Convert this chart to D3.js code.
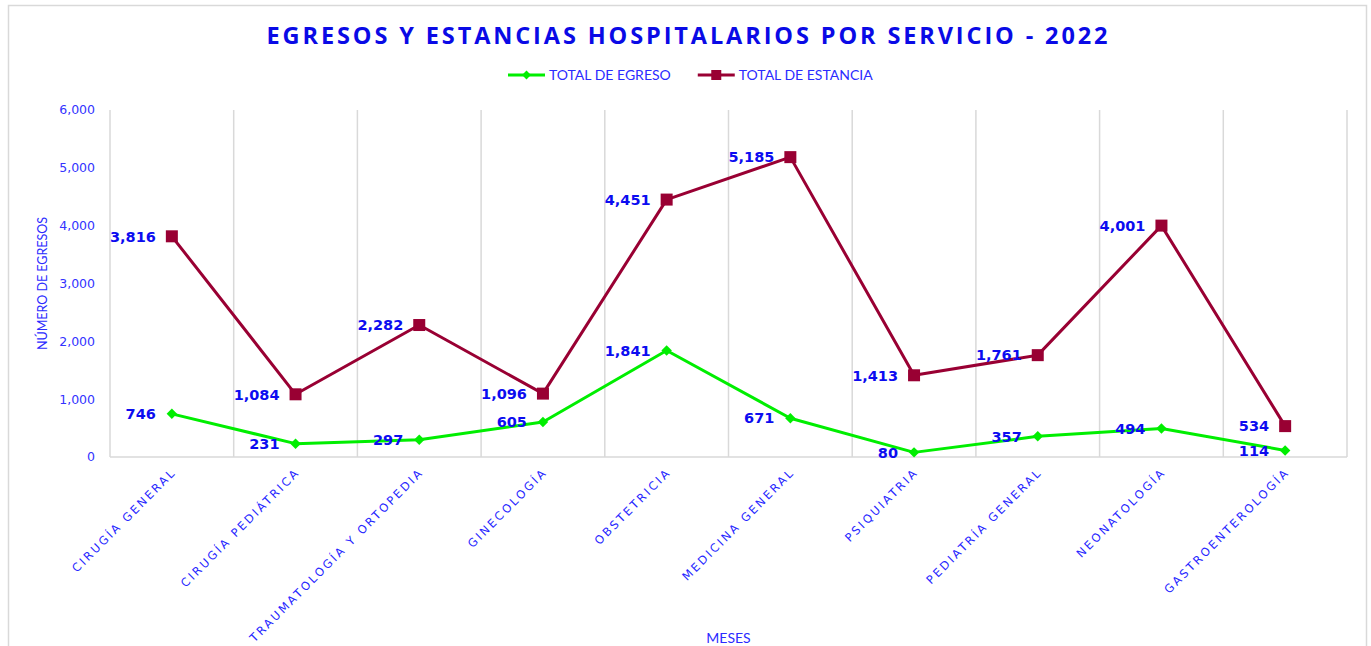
<!DOCTYPE html>
<html lang="es">
<head>
  <meta charset="utf-8" />
  <title>Egresos y estancias hospitalarios por servicio - 2022</title>
  <style>
    body {
      margin: 0;
      padding: 0;
      background: #fff;
    }
    .grid line {
      stroke: #d9d9d9;
      stroke-width: 1.5px;
    }
    .tick-y {
      font: 12.5px "DejaVu Sans", sans-serif;
      fill: #3333ff;
    }
    .tick-x {
      font: 11.5px "DejaVu Sans", sans-serif;
      letter-spacing: 2.4px;
      fill: #2626ff;
    }
    .label {
      font: bold 14.5px "DejaVu Sans", sans-serif;
      fill: #0c0cf0;
    }
    .legend text, .axis-title {
      font: 14px Lato, sans-serif;
      fill: #2b2bff;
    }
  </style>
  <script src="https://d3js.org/d3.v7.min.js"></script>
</head>
<body>
  <svg width="1371" height="646"></svg>
  <script>
    const servicios = [
      "CIRUGÍA GENERAL", "CIRUGÍA PEDIÁTRICA", "TRAUMATOLOGÍA Y ORTOPEDIA",
      "GINECOLOGÍA", "OBSTETRICIA", "MEDICINA GENERAL", "PSIQUIATRIA",
      "PEDIATRÍA GENERAL", "NEONATOLOGÍA", "GASTROENTEROLOGÍA"
    ];
    const egresos = [746, 231, 297, 605, 1841, 671, 80, 357, 494, 114];
    const estancias = [3816, 1084, 2282, 1096, 4451, 5185, 1413, 1761, 4001, 534];
    const yTicks = [0, 1000, 2000, 3000, 4000, 5000, 6000];

    const series = [
      { name: "TOTAL DE EGRESO", values: egresos, color: "#00ee00", marker: "diamond" },
      { name: "TOTAL DE ESTANCIA", values: estancias, color: "#990033", marker: "square" }
    ];

    const svg = d3.select("svg");
    const margin = { left: 110, right: 1347, top: 110, bottom: 457 };

    // chart frame
    svg.append("rect")
      .attr("x", 8.5).attr("y", 5.5)
      .attr("width", 1358).attr("height", 660)
      .attr("fill", "#fff")
      .attr("stroke", "#d9d9d9")
      .attr("stroke-width", 1.5);

    const x = d3.scaleBand()
      .domain(servicios)
      .range([margin.left, margin.right]);

    const y = d3.scaleLinear()
      .domain([0, 6000])
      .range([margin.bottom, margin.top]);

    // vertical grid lines at category boundaries
    const bounds = servicios.map(s => x(s)).concat([margin.right]);
    svg.append("g")
      .attr("class", "grid")
      .selectAll("line")
      .data(bounds)
      .join("line")
      .attr("x1", d => d).attr("x2", d => d)
      .attr("y1", margin.top).attr("y2", margin.bottom);

    svg.append("line")
      .attr("x1", margin.left).attr("x2", margin.right)
      .attr("y1", margin.bottom).attr("y2", margin.bottom)
      .attr("stroke", "#d9d9d9")
      .attr("stroke-width", 1.5);

    // y tick labels
    svg.append("g")
      .selectAll("text")
      .data(yTicks)
      .join("text")
      .attr("class", "tick-y")
      .attr("x", 95)
      .attr("y", d => y(d))
      .attr("dy", "0.35em")
      .attr("text-anchor", "end")
      .text(d => d3.format(",")(d));

    // x tick labels
    svg.append("g")
      .selectAll("text")
      .data(servicios)
      .join("text")
      .attr("class", "tick-x")
      .attr("text-anchor", "end")
      .attr("transform", d => `translate(${x(d) + x.bandwidth() / 2 + 5},${473}) rotate(-45)`)
      .text(d => d);

    // axis titles
    svg.append("text")
      .attr("class", "axis-title")
      .style("font-size", "12.5px")
      .attr("text-anchor", "middle")
      .attr("transform", `translate(47,${(margin.top + margin.bottom) / 2}) rotate(-90)`)
      .text("NÚMERO DE EGRESOS");

    svg.append("text")
      .attr("class", "axis-title")
      .attr("text-anchor", "middle")
      .attr("x", (margin.left + margin.right) / 2)
      .attr("y", 643)
      .text("MESES");

    // title
    svg.append("text")
      .attr("x", 687)
      .attr("y", 44)
      .attr("text-anchor", "middle")
      .attr("font-family", "'Open Sans', sans-serif")
      .attr("font-weight", "bold")
      .attr("font-size", 23.5)
      .attr("fill", "#0a0ae6")
      .attr("textLength", 841)
      .attr("lengthAdjust", "spacing")
      .text("EGRESOS Y ESTANCIAS  HOSPITALARIOS  POR  SERVICIO  -  2022");

    const cx = d => x(d) + x.bandwidth() / 2;
    const line = d3.line()
      .x((v, i) => cx(servicios[i]))
      .y(v => y(v));

    function marker(sel, type, color) {
      if (type === "square") {
        sel.append("rect")
          .attr("x", -6).attr("y", -6)
          .attr("width", 12).attr("height", 12)
          .attr("fill", color);
      } else {
        sel.append("path")
          .attr("d", d3.symbol(d3.symbolDiamond2, 70)())
          .attr("fill", color);
      }
    }

    series.forEach(s => {
      svg.append("path")
        .datum(s.values)
        .attr("fill", "none")
        .attr("stroke", s.color)
        .attr("stroke-width", 3)
        .attr("stroke-linejoin", "round")
        .attr("d", line);

      svg.append("g")
        .selectAll("g")
        .data(s.values)
        .join("g")
        .attr("transform", (v, i) => `translate(${cx(servicios[i])},${y(v)})`)
        .each(function () { marker(d3.select(this), s.marker, s.color); });
    });

    // data labels, placed to the left of each point
    series.forEach(s => {
      svg.append("g")
        .selectAll("text")
        .data(s.values)
        .join("text")
        .attr("class", "label")
        .attr("x", (v, i) => cx(servicios[i]) - 16)
        .attr("y", v => y(v))
        .attr("dy", "0.36em")
        .attr("text-anchor", "end")
        .text(v => d3.format(",")(v));
    });

    // legend
    const legend = svg.append("g").attr("class", "legend");
    let lx = 508;
    series.forEach(s => {
      const g = legend.append("g").attr("transform", `translate(${lx},75)`);
      g.append("line")
        .attr("x1", 0).attr("x2", 37)
        .attr("stroke", s.color)
        .attr("stroke-width", 3);
      const m = g.append("g").attr("transform", "translate(18.5,0)");
      if (s.marker === "square") {
        m.append("rect").attr("x", -5).attr("y", -5).attr("width", 10).attr("height", 10).attr("fill", s.color);
      } else {
        m.append("path").attr("d", d3.symbol(d3.symbolDiamond2, 50)()).attr("fill", s.color);
      }
      const t = g.append("text")
        .attr("x", 41)
        .attr("dy", "0.35em")
        .text(s.name);
      lx += 41 + t.node().getComputedTextLength() + 27;
    });
  </script>
</body>
</html>
